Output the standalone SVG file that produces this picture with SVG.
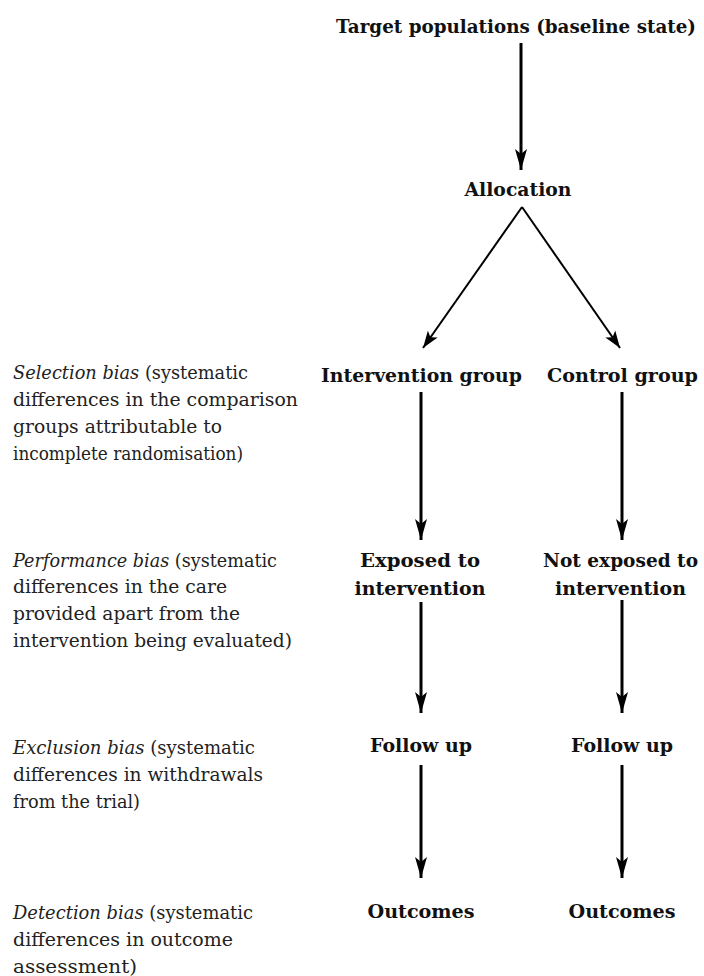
<svg xmlns="http://www.w3.org/2000/svg" width="704" height="976" viewBox="0 0 704 976">
<style>
.lbl{font-family:"DejaVu Serif","Liberation Serif",serif;font-weight:bold;font-size:19px;fill:#111;text-anchor:middle}
.title{font-size:18px}
.note{font-family:"DejaVu Serif","Liberation Serif",serif;font-size:18px;fill:#222}
.note .it{font-style:italic}
.con{stroke:#000;stroke-width:3;fill:none}
.con.thin{stroke-width:2}
</style>
<defs>
<marker id="ah" viewBox="-21 -7 22 14" refX="0" refY="0" markerWidth="22" markerHeight="14" markerUnits="userSpaceOnUse" orient="auto">
<path d="M0,0 L-21,-6 L-16,0 L-21,6 Z" fill="#000"/>
</marker>
<marker id="ah2" viewBox="-21 -7 22 14" refX="0" refY="0" markerWidth="22" markerHeight="14" markerUnits="userSpaceOnUse" orient="auto">
<path d="M0,0 L-17,-6 L-13,0 L-17,6 Z" fill="#000"/>
</marker>
</defs>
<rect width="704" height="976" fill="#fff"/>
<g id="connectors">
<line class="con" x1="521" y1="43" x2="521" y2="170" marker-end="url(#ah)"/>
<line class="con thin" x1="522" y1="207" x2="423" y2="348" marker-end="url(#ah2)"/>
<line class="con thin" x1="522" y1="207" x2="620" y2="348" marker-end="url(#ah2)"/>
<line class="con" x1="421" y1="392" x2="421" y2="540" marker-end="url(#ah)"/>
<line class="con" x1="622" y1="392" x2="622" y2="540" marker-end="url(#ah)"/>
<line class="con" x1="421" y1="602" x2="421" y2="713" marker-end="url(#ah)"/>
<line class="con" x1="622" y1="600" x2="622" y2="713" marker-end="url(#ah)"/>
<line class="con" x1="421" y1="765" x2="421" y2="878" marker-end="url(#ah)"/>
<line class="con" x1="622" y1="765" x2="622" y2="878" marker-end="url(#ah)"/>
</g>
<g id="target"><text class="lbl title" x="516" y="33" textLength="360" lengthAdjust="spacingAndGlyphs">Target populations (baseline state)</text></g>
<g id="allocation"><text class="lbl" x="518" y="196" textLength="107" lengthAdjust="spacingAndGlyphs">Allocation</text></g>
<g id="intervention-group"><text class="lbl" x="421.5" y="382" textLength="201" lengthAdjust="spacingAndGlyphs">Intervention group</text></g>
<g id="control-group"><text class="lbl" x="622.5" y="382" textLength="151" lengthAdjust="spacingAndGlyphs">Control group</text></g>
<g id="exposed">
<text class="lbl" x="420" y="567" textLength="120" lengthAdjust="spacingAndGlyphs">Exposed to</text>
<text class="lbl" x="420" y="595" textLength="131" lengthAdjust="spacingAndGlyphs">intervention</text>
</g>
<g id="not-exposed">
<text class="lbl" x="620.5" y="567" textLength="155" lengthAdjust="spacingAndGlyphs">Not exposed to</text>
<text class="lbl" x="620.5" y="595" textLength="131" lengthAdjust="spacingAndGlyphs">intervention</text>
</g>
<g id="follow-up-int"><text class="lbl" x="421" y="752" textLength="102" lengthAdjust="spacingAndGlyphs">Follow up</text></g>
<g id="follow-up-ctl"><text class="lbl" x="622" y="752" textLength="102" lengthAdjust="spacingAndGlyphs">Follow up</text></g>
<g id="outcomes-int"><text class="lbl" x="421" y="918" textLength="107" lengthAdjust="spacingAndGlyphs">Outcomes</text></g>
<g id="outcomes-ctl"><text class="lbl" x="622" y="918" textLength="107" lengthAdjust="spacingAndGlyphs">Outcomes</text></g>
<g id="selection-bias" class="note">
<text x="13" y="379" textLength="235" lengthAdjust="spacingAndGlyphs"><tspan class="it">Selection bias</tspan> (systematic</text>
<text x="13" y="406" textLength="285" lengthAdjust="spacingAndGlyphs">differences in the comparison</text>
<text x="13" y="433" textLength="209" lengthAdjust="spacingAndGlyphs">groups attributable to</text>
<text x="13" y="460" textLength="230" lengthAdjust="spacingAndGlyphs">incomplete randomisation)</text>
</g>
<g id="performance-bias" class="note">
<text x="13" y="567" textLength="264" lengthAdjust="spacingAndGlyphs"><tspan class="it">Performance bias</tspan> (systematic</text>
<text x="13" y="593" textLength="214" lengthAdjust="spacingAndGlyphs">differences in the care</text>
<text x="13" y="620" textLength="227" lengthAdjust="spacingAndGlyphs">provided apart from the</text>
<text x="13" y="647" textLength="279" lengthAdjust="spacingAndGlyphs">intervention being evaluated)</text>
</g>
<g id="exclusion-bias" class="note">
<text x="13" y="754" textLength="242" lengthAdjust="spacingAndGlyphs"><tspan class="it">Exclusion bias</tspan> (systematic</text>
<text x="13" y="781" textLength="250" lengthAdjust="spacingAndGlyphs">differences in withdrawals</text>
<text x="13" y="808" textLength="127" lengthAdjust="spacingAndGlyphs">from the trial)</text>
</g>
<g id="detection-bias" class="note">
<text x="13" y="919" textLength="240" lengthAdjust="spacingAndGlyphs"><tspan class="it">Detection bias</tspan> (systematic</text>
<text x="13" y="946" textLength="220" lengthAdjust="spacingAndGlyphs">differences in outcome</text>
<text x="13" y="973" textLength="124" lengthAdjust="spacingAndGlyphs">assessment)</text>
</g>
</svg>
